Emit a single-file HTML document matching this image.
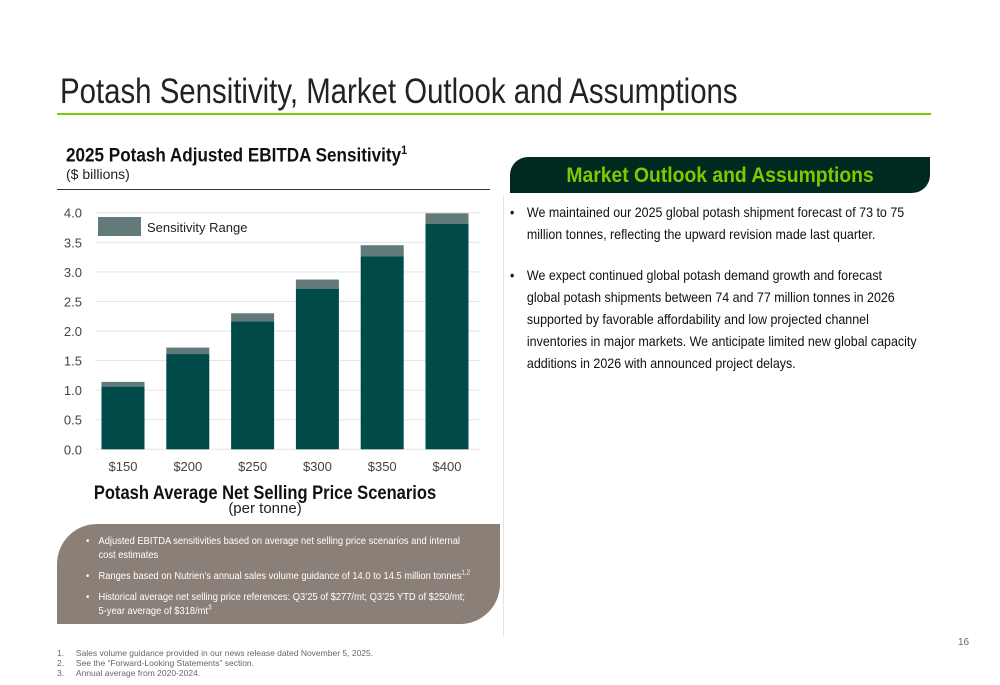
<!DOCTYPE html>
<html><head><meta charset="utf-8"><style>
body{margin:0;width:1000px;height:685px;background:#fff;font-family:"Liberation Sans",sans-serif;position:relative;overflow:hidden}
.a{position:absolute}
.nb{position:relative;padding-left:14px}
.nb b{position:absolute;left:0;font-weight:normal}
</style></head><body>
<div class="a" style="left:60px;top:72px;font-size:35px;color:#222;white-space:nowrap;transform:scaleX(0.84);transform-origin:left">Potash Sensitivity, Market Outlook and Assumptions</div>
<div class="a" style="left:57px;top:113px;width:874px;height:2px;background:#7acc00"></div>
<div class="a" style="left:66px;top:143px;font-size:19px;font-weight:bold;color:#111;white-space:nowrap;transform:scaleX(0.9);transform-origin:left">2025 Potash Adjusted EBITDA Sensitivity<sup style="font-size:12px">1</sup></div>
<div class="a" style="left:66px;top:166px;font-size:14px;color:#222">($ billions)</div>
<div class="a" style="left:57px;top:189px;width:433px;height:1px;background:#333"></div>
<svg class="a" style="left:0;top:0" width="1000" height="685" id="chart"></svg>
<div class="a" style="left:60px;top:483px;width:410px;text-align:center;font-size:19px;font-weight:bold;color:#111;white-space:nowrap;transform:scaleX(0.87)">Potash Average Net Selling Price Scenarios</div>
<div class="a" style="left:60px;top:500px;width:410px;text-align:center;font-size:15px;color:#222">(per tonne)</div>
<div class="a" style="left:57px;top:524px;width:443px;height:100px;background:#8b8078;border-radius:40px 0 40px 0"></div>
<div class="a" style="left:86px;top:534px;width:440px;font-size:10.5px;color:#fff;line-height:14px;transform:scaleX(0.89);transform-origin:left;white-space:nowrap">
<div class="nb"><b>•</b>Adjusted EBITDA sensitivities based on average net selling price scenarios and internal<br>cost estimates</div>
<div class="nb" style="margin-top:7px"><b>•</b>Ranges based on Nutrien’s annual sales volume guidance of 14.0 to 14.5 million tonnes<sup style="font-size:7px;line-height:0">1,2</sup></div>
<div class="nb" style="margin-top:7px"><b>•</b>Historical average net selling price references: Q3’25 of $277/mt; Q3’25 YTD of $250/mt;<br>5-year average of $318/mt<sup style="font-size:7px;line-height:0">3</sup></div>
</div>
<div class="a" style="left:503px;top:195px;width:1px;height:442px;background:#e4e4e4"></div>
<div class="a" style="left:510px;top:157px;width:420px;height:36px;background:#00291f;border-radius:18px 0 18px 0;color:#7acc00;font-size:21px;font-weight:bold;text-align:center;line-height:38px"><span style="display:inline-block;transform:scaleX(0.92)">Market Outlook and Assumptions</span></div>
<div class="a" style="left:510px;top:201px;width:480px;font-size:14px;color:#111;line-height:22px;transform:scaleX(0.89);transform-origin:left;white-space:nowrap"><span style="position:absolute;left:0">•</span><div style="margin-left:19px">We maintained our 2025 global potash shipment forecast of 73 to 75<br>million tonnes, reflecting the upward revision made last quarter.</div></div>
<div class="a" style="left:510px;top:264px;width:480px;font-size:14px;color:#111;line-height:22px;transform:scaleX(0.89);transform-origin:left;white-space:nowrap"><span style="position:absolute;left:0">•</span><div style="margin-left:19px">We expect continued global potash demand growth and forecast<br>global potash shipments between 74 and 77 million tonnes in 2026<br>supported by favorable affordability and low projected channel<br>inventories in major markets. We anticipate limited new global capacity<br>additions in 2026 with announced project delays.</div></div>
<div class="a" style="left:57px;top:648px;font-size:8.5px;color:#666;line-height:10px">
<div>1.&nbsp;&nbsp;&nbsp;&nbsp;&nbsp;Sales volume guidance provided in our news release dated November 5, 2025.</div>
<div>2.&nbsp;&nbsp;&nbsp;&nbsp;&nbsp;See the “Forward-Looking Statements” section.</div>
<div>3.&nbsp;&nbsp;&nbsp;&nbsp;&nbsp;Annual average from 2020-2024.</div></div>
<div class="a" style="left:958px;top:637px;font-size:10px;color:#666">16</div>
<script>
const categories=["$150","$200","$250","$300","$350","$400"];
const baseValues=[1.06,1.61,2.16,2.71,3.26,3.81];
const highValues=[1.14,1.72,2.30,2.87,3.45,3.99];
const yTicks=[0,0.5,1.0,1.5,2.0,2.5,3.0,3.5,4.0];
const svg=document.getElementById('chart');
const NS='http://www.w3.org/2000/svg';
const x0=90.6,band=64.8,bw=43,yb=449.3,ppu=(449.3-212.7)/4;
const y=v=>yb-v*ppu;
const cx=i=>x0+band*(i+0.5);
function mk(t,a){const e=document.createElementNS(NS,t);for(const k in a)e.setAttribute(k,a[k]);svg.appendChild(e);return e;}
yTicks.forEach(v=>{
 const g=mk('line',{x1:95,x2:480,y1:y(v),y2:y(v),stroke:'#e3e3e3','stroke-width':1});
 
 
 const t=mk('text',{x:82,y:y(v)+5,'text-anchor':'end','font-size':13,fill:'#444','font-family':'Liberation Sans'});
 t.textContent=v.toFixed(1);
 
 
});
categories.forEach((c,i)=>{
 const r2=mk('rect',{x:cx(i)-bw/2,y:y(highValues[i]),width:bw,height:y(baseValues[i])-y(highValues[i]),fill:'#627a7a'});
 
 
 const r=mk('rect',{x:cx(i)-bw/2,y:y(baseValues[i]),width:bw,height:yb-y(baseValues[i]),fill:'#004a4a'});
 
 
 const t=mk('text',{x:cx(i),y:471,'text-anchor':'middle','font-size':13,fill:'#444','font-family':'Liberation Sans'});
 t.textContent=c;
 
 
});
const ls=mk('rect',{x:98,y:217,width:43,height:19,fill:'#627a7a'});


const lt=mk('text',{x:147,y:232,'font-size':13,fill:'#222','font-family':'Liberation Sans'});
lt.textContent='Sensitivity Range';


</script>
</body></html>
